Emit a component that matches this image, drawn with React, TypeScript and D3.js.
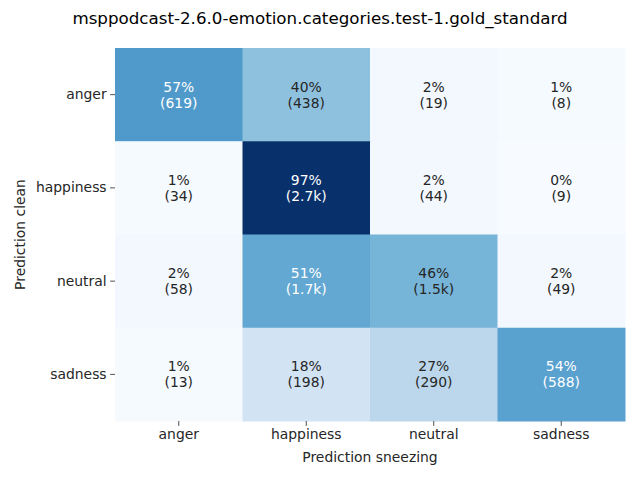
import React, { useEffect, useRef } from 'react';
import * as d3 from 'd3';

const title = 'msppodcast-2.6.0-emotion.categories.test-1.gold_standard';
const rowLabels = ['anger', 'happiness', 'neutral', 'sadness'];
const colLabels = ['anger', 'happiness', 'neutral', 'sadness'];
const percentRows = [
  [57, 40, 2, 1],
  [1, 97, 2, 0],
  [2, 51, 46, 2],
  [1, 18, 27, 54],
];
const countRows = [
  ['619', '438', '19', '8'],
  ['34', '2.7k', '44', '9'],
  ['58', '1.7k', '1.5k', '49'],
  ['13', '198', '290', '588'],
];
const xTitle = 'Prediction sneezing';
const yTitle = 'Prediction clean';

const W = 640;
const H = 480;
const margin = { left: 115, right: 15, top: 48, bottom: 59 };
const FONT = 'DejaVu Sans, sans-serif';
const TEXT = '#262626';

export default function App() {
  const svgRef = useRef<SVGSVGElement>(null);

  useEffect(() => {
    if (!svgRef.current) return;
    const svg = d3.select(svgRef.current);
    svg.selectAll('*').remove();

    const x = d3.scaleBand().domain(colLabels).range([margin.left, W - margin.right]);
    const y = d3.scaleBand().domain(rowLabels).range([margin.top, H - margin.bottom]);
    const allVals = percentRows.flat();
    const color = d3.scaleSequential(d3.interpolateBlues)
      .domain([d3.min(allVals) as number, d3.max(allVals) as number]);

    svg.append('rect').attr('width', W).attr('height', H).attr('fill', 'white');

    const cells = rowLabels.flatMap((r, i) =>
      colLabels.map((c, j) => ({ r, c, v: percentRows[i][j], n: countRows[i][j] }))
    );

    svg.append('g').selectAll('rect')
      .data(cells)
      .enter()
      .append('rect')
      .attr('x', d => x(d.c)!)
      .attr('y', d => y(d.r)!)
      .attr('width', x.bandwidth() + 0.5)
      .attr('height', y.bandwidth() + 0.5)
      .attr('fill', d => color(d.v));

    // annotation colour like seaborn: white on dark cells
    const textColor = (v: number) => {
      const rgb = d3.rgb(color(v));
      const lum = (ch: number) => {
        const s = ch / 255;
        return s <= 0.03928 ? s / 12.92 : Math.pow((s + 0.055) / 1.055, 2.4);
      };
      const L = 0.2126 * lum(rgb.r) + 0.7152 * lum(rgb.g) + 0.0722 * lum(rgb.b);
      return L > 0.408 ? TEXT : 'white';
    };

    const ann = svg.append('g')
      .attr('font-family', FONT)
      .attr('font-size', 13.9)
      .attr('text-anchor', 'middle');
    cells.forEach(d => {
      const cx = x(d.c)! + x.bandwidth() / 2;
      const cy = y(d.r)! + y.bandwidth() / 2;
      const t = ann.append('text').attr('fill', textColor(d.v));
      t.append('tspan').attr('x', cx).attr('y', cy - 3).text(`${d.v}%`);
      t.append('tspan').attr('x', cx).attr('y', cy + 13).text(`(${d.n})`);
    });

    const xAxis = svg.append('g')
      .attr('transform', `translate(0,${H - margin.bottom})`)
      .call(d3.axisBottom(x).tickSize(4.9).tickPadding(3.5));
    const yAxis = svg.append('g')
      .attr('transform', `translate(${margin.left},0)`)
      .call(d3.axisLeft(y).tickSize(4.9).tickPadding(3.5));
    [xAxis, yAxis].forEach(a => {
      a.select('.domain').remove();
      a.selectAll('line').attr('stroke', TEXT).attr('stroke-width', 0.8);
      a.selectAll('text').attr('fill', TEXT).attr('font-family', FONT).attr('font-size', 13.9);
    });

    svg.append('text')
      .attr('x', (margin.left + W - margin.right) / 2)
      .attr('y', 462)
      .attr('text-anchor', 'middle')
      .attr('font-family', FONT)
      .attr('font-size', 13.9)
      .attr('fill', TEXT)
      .text(xTitle);

    svg.append('text')
      .attr('transform', `translate(25,${(margin.top + H - margin.bottom) / 2}) rotate(-90)`)
      .attr('text-anchor', 'middle')
      .attr('font-family', FONT)
      .attr('font-size', 13.9)
      .attr('fill', TEXT)
      .text(yTitle);

    svg.append('text')
      .attr('x', W / 2)
      .attr('y', 24)
      .attr('text-anchor', 'middle')
      .attr('font-family', FONT)
      .attr('font-size', 16.7)
      .attr('fill', 'black')
      .text(title);
  }, []);

  return (
    <svg
      ref={svgRef}
      width={W}
      height={H}
      style={{ position: 'absolute', left: 0, top: 0 }}
    />
  );
}
